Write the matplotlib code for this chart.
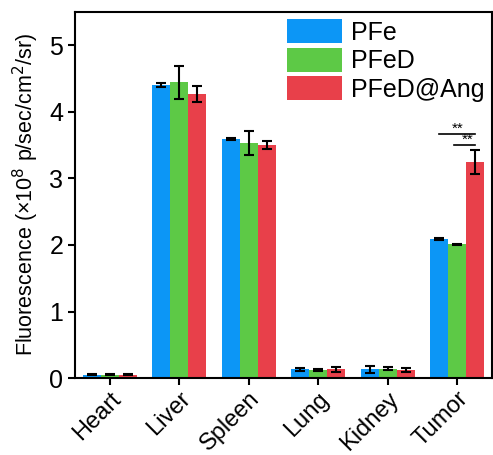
import numpy as np
import matplotlib.pyplot as plt

plt.rcParams['font.family'] = ['Liberation Sans', 'DejaVu Sans']

organs = ['Heart', 'Liver', 'Spleen', 'Lung', 'Kidney', 'Tumor']
series = ['PFe', 'PFeD', 'PFeD@Ang']
pfe = [0.05, 4.40, 3.59, 0.13, 0.13, 2.09]
pfe_err = [0.01, 0.03, 0.01, 0.02, 0.05, 0.02]
pfed = [0.05, 4.44, 3.53, 0.12, 0.14, 2.01]
pfed_err = [0.01, 0.25, 0.18, 0.01, 0.02, 0.01]
ang = [0.05, 4.27, 3.50, 0.13, 0.12, 3.24]
ang_err = [0.01, 0.12, 0.06, 0.04, 0.03, 0.18]
colors = ['#0C96F6', '#5DC946', '#E8404A']

fig = plt.figure(figsize=(4.93, 4.55), dpi=100)
ax = fig.add_axes([0.152, 0.169, 0.846, 0.805])

x = np.arange(len(organs))
w = 0.26
vals = [pfe, pfed, ang]
errs = [pfe_err, pfed_err, ang_err]
for i in range(3):
    ax.bar(x + (i - 1) * w, vals[i], w, color=colors[i], label=series[i],
           yerr=errs[i], capsize=3.5,
           error_kw=dict(elinewidth=1.5, capthick=1.5, ecolor='black'))

# significance marks
ax.plot([5 - w, 5 + w], [3.66, 3.66], color='black', lw=1.2)
ax.text(5, 3.64, '**', ha='center', va='bottom', fontsize=11)
ax.plot([5 - 0.04, 5 + w], [3.50, 3.50], color='black', lw=1.2)
ax.text(5 + w / 2 + 0.02, 3.48, '**', ha='center', va='bottom', fontsize=11)

ax.set_xlim(-0.5, 5.5)
ax.set_ylim(0, 5.5)
ax.set_yticks([0, 1, 2, 3, 4, 5])
ax.set_xticks(x)
ax.set_xticklabels(organs, rotation=45, ha='right', rotation_mode='anchor')
ax.tick_params(axis='both', labelsize=18, width=1.5, length=5, direction='out')
ax.tick_params(axis='x', labelsize=17, pad=2)
ax.set_ylabel('Fluorescence (×10$^{8}$ p/sec/cm$^{2}$/sr)', fontsize=15.5,
              labelpad=6)
for s in ax.spines.values():
    s.set_linewidth(1.5)

ax.legend(loc='upper right', fontsize=18, frameon=False, handlelength=2.2,
          handleheight=1.1, handletextpad=0.35, labelspacing=0.12,
          borderpad=0.2, borderaxespad=0.1, bbox_to_anchor=(1.0, 1.0))

fig.savefig('out.png', dpi=100)
